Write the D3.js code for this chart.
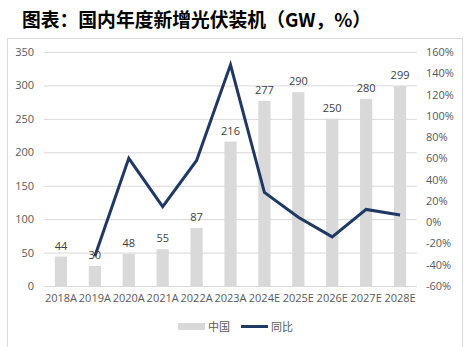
<!DOCTYPE html>
<html><head><meta charset="utf-8">
<script src="https://cdn.jsdelivr.net/npm/d3@7"></script>
<style>body{margin:0;background:#fff}svg{display:block}</style>
</head><body>
<svg id="c" width="465" height="347"></svg>
<script>
const categories = ["2018A","2019A","2020A","2021A","2022A","2023A","2024E","2025E","2026E","2027E","2028E"];
const chinaValues = [44,30,48,55,87,216,277,290,250,280,299];
const yoyValues = [null,-32,60,14.6,58,148,28,4.7,-13.8,12,6.8];
const leftTicks = [0,50,100,150,200,250,300,350];
const rightTicks = [-60,-40,-20,0,20,40,60,80,100,120,140,160];
const title = "图表：国内年度新增光伏装机（GW，%）";
const legendNames = ["中国","同比"];

const svg = d3.select("#c");
const font = "'Open Sans','Noto Sans CJK SC',sans-serif";
const m = {l:44, r:417, t:52, b:286};

svg.append("rect").attr("x",7.5).attr("y",38.5).attr("width",455).attr("height",320)
  .attr("fill","none").attr("stroke","#d9d9d9");

svg.append("text").attr("x",22).attr("y",27).text(title)
  .attr("font-family","'Noto Sans CJK SC',sans-serif").attr("font-weight","bold")
  .attr("font-size",18.8).attr("fill","#000");

const x = d3.scaleBand().domain(categories).range([m.l,m.r]);
const yL = d3.scaleLinear().domain([0,350]).range([m.b,m.t]);
const yR = d3.scaleLinear().domain([-60,160]).range([m.b,m.t]);

// gridlines
svg.append("g").selectAll("line").data(leftTicks).join("line")
  .attr("x1",m.l).attr("x2",m.r).attr("y1",d=>yL(d)+0.5).attr("y2",d=>yL(d)+0.5)
  .attr("stroke","#d9d9d9").attr("stroke-width",1);

// left axis
const ax = d3.axisLeft(yL).tickValues(leftTicks).tickSize(0).tickPadding(10);
const gL = svg.append("g").attr("transform",`translate(${m.l},0)`).call(ax);
gL.select(".domain").remove();
gL.selectAll("text").attr("font-family",font).attr("font-size",11).attr("fill","#595959");

const axR = d3.axisRight(yR).tickValues(rightTicks).tickSize(0).tickPadding(9).tickFormat(d=>d+"%");
const gR = svg.append("g").attr("transform",`translate(${m.r},0)`).call(axR);
gR.select(".domain").remove();
gR.selectAll("text").attr("font-family",font).attr("font-size",11).attr("fill","#595959");

const axB = d3.axisBottom(x).tickSize(0).tickPadding(8);
const gB = svg.append("g").attr("transform",`translate(0,${m.b})`).call(axB);
gB.select(".domain").remove();
gB.selectAll("text").attr("font-family",font).attr("font-size",11).attr("fill","#595959");

// bars
const bw = x.bandwidth()*0.36;
svg.append("g").selectAll("rect").data(categories).join("rect")
  .attr("x",(d)=>x(d)+x.bandwidth()/2-bw/2).attr("width",bw)
  .attr("y",(d,i)=>yL(chinaValues[i])).attr("height",(d,i)=>yL(0)-yL(chinaValues[i]))
  .attr("fill","#d9d9d9");

// line
const pts = categories.map((c,i)=>({c,v:yoyValues[i]})).filter(d=>d.v!==null);
const line = d3.line().x(d=>x(d.c)+x.bandwidth()/2).y(d=>yR(d.v));
svg.append("path").datum(pts).attr("d",line).attr("fill","none")
  .attr("stroke","#203864").attr("stroke-width",3).attr("stroke-linejoin","miter");

// labels
svg.append("g").selectAll("text").data(categories).join("text")
  .attr("x",d=>x(d)+x.bandwidth()/2).attr("y",(d,i)=>yL(chinaValues[i])-7)
  .attr("text-anchor","middle").text((d,i)=>chinaValues[i])
  .attr("font-family",font).attr("font-size",11).attr("fill","#404040");

// legend
const lg = svg.append("g");
lg.append("rect").attr("x",178).attr("y",323).attr("width",27).attr("height",7).attr("fill","#d9d9d9");
lg.append("text").attr("x",208).attr("y",331).text(legendNames[0])
  .attr("font-family","'Noto Sans CJK SC',sans-serif").attr("font-size",11).attr("fill","#595959");
lg.append("line").attr("x1",241).attr("x2",268).attr("y1",326.5).attr("y2",326.5)
  .attr("stroke","#203864").attr("stroke-width",3);
lg.append("text").attr("x",271).attr("y",331).text(legendNames[1])
  .attr("font-family","'Noto Sans CJK SC',sans-serif").attr("font-size",11).attr("fill","#595959");
</script>
</body></html>
